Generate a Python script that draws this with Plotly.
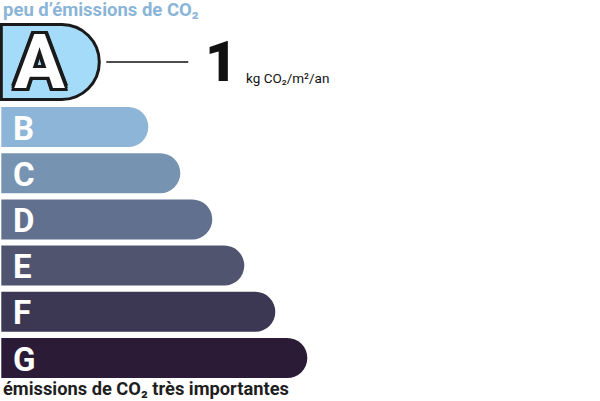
import plotly.graph_objects as go

# ---- data ----
classes = ["A", "B", "C", "D", "E", "F", "G"]
bar_ends = [98, 147, 179, 211, 243, 274, 306]          # right end of each class bar
bar_colors = ["#a4dbf8", "#8cb5d7", "#7793b2", "#62708f", "#51546f", "#3c3752", "#2b1b37"]
current_class = "A"
value_text = "1"
unit_text = "kg CO₂/m²/an"
top_label = "peu d’émissions de CO₂"
bottom_label = "émissions de CO₂ très importantes"

# ---- layout geometry ----
W, H = 600, 401
X0 = -1.3
row_step = 46.2
first_row_center = 127
small_h = 40
big_h = 75
big_center = 62

centers, heights, lw = [], [], []
k = 0
for i, c in enumerate(classes):
    if c == current_class:
        centers.append(big_center)
        heights.append(big_h)
        lw.append(3)
    else:
        centers.append(first_row_center + row_step * k)
        heights.append(small_h)
        lw.append(0)
        k += 1

fig = go.Figure()
fig.add_trace(go.Bar(
    orientation="h",
    x=bar_ends,
    y=centers,
    width=heights,
    marker=dict(color=bar_colors, line=dict(color="#1a1a1a", width=lw), cornerradius="50%"),
    hoverinfo="skip",
    showlegend=False,
))

FONT = "Roboto"
ann = []
for i, c in enumerate(classes):
    if c == current_class:
        sh = ", ".join(f"{dx}px {dy}px 0 #1a1a1a" for dx, dy in
                       [(-3, -3), (3, -3), (-3, 3), (3, 3), (0, 3), (3, 0), (-3, 0), (0, -3),
                        (-2, 3), (2, 3), (3, 2), (-3, 2), (2, -3), (-2, -3), (3, -2), (-3, -2)])
        ann.append(dict(x=38, y=centers[i], text=c, showarrow=False, xanchor="center", yanchor="middle",
                        font=dict(family=FONT, size=76, color="white", weight=700, shadow=sh)))
    else:
        ann.append(dict(x=10, y=centers[i] + 1, text=c, showarrow=False, xanchor="left", yanchor="middle",
                        font=dict(family=FONT, size=33, color="white", weight=700)))

ann.append(dict(x=202, y=62, text=value_text, showarrow=False, xanchor="left", yanchor="middle",
                font=dict(family=FONT, size=56, color="#111", weight=900)))
ann.append(dict(x=243, y=78, text=unit_text, showarrow=False, xanchor="left", yanchor="middle",
                font=dict(family=FONT, size=13.5, color="#111")))
ann.append(dict(x=0, y=9.5, text=top_label, showarrow=False, xanchor="left", yanchor="middle",
                font=dict(family=FONT, size=18.5, color="#8ab5d7", weight=700)))
ann.append(dict(x=0, y=388, text=bottom_label, showarrow=False, xanchor="left", yanchor="middle",
                font=dict(family=FONT, size=18.3, color="#1e1e1e", weight=700)))

fig.update_layout(
    width=W, height=H,
    margin=dict(l=0, r=0, t=0, b=0),
    paper_bgcolor="white", plot_bgcolor="white",
    xaxis=dict(range=[X0, W + X0], visible=False, fixedrange=True),
    yaxis=dict(range=[H, 0], visible=False, fixedrange=True),
    annotations=ann,
    shapes=[dict(type="line", x0=105, x1=187, y0=62, y1=62, line=dict(color="#111", width=1.3))],
)

fig.write_html("out.html", config={"displayModeBar": False},
               post_script="document.body.style.margin='0';")
